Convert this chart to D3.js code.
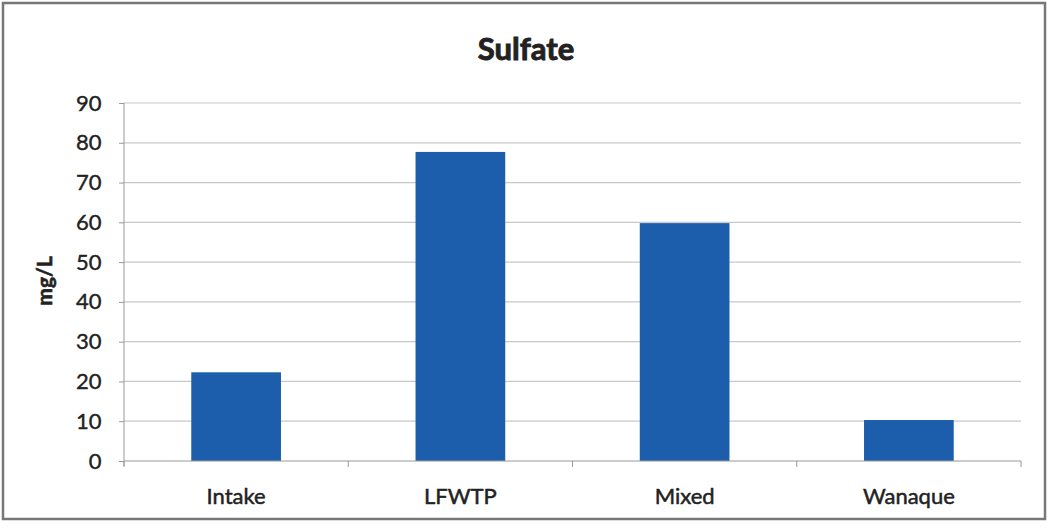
<!DOCTYPE html>
<html><head><meta charset="utf-8">
<script src="https://cdn.jsdelivr.net/npm/d3@7"></script>
<style>body{margin:0;background:#fff;} svg{display:block;}</style>
</head><body>
<svg id="chart" width="1049" height="529"></svg>
<script>
const categories = ["Intake", "LFWTP", "Mixed", "Wanaque"];
const values = [22.3, 77.7, 59.8, 10.3];
const yTicks = [0, 10, 20, 30, 40, 50, 60, 70, 80, 90];
const title = "Sulfate";
const yLabel = "mg/L";

const svg = d3.select("#chart");
const font = "Lato, 'Open Sans', sans-serif";
const m = {left: 124, right: 1021, top: 103, bottom: 461};

svg.append("rect").attr("x", 3).attr("y", 3).attr("width", 1042).attr("height", 516)
  .attr("fill", "#fff").attr("stroke", "#777").attr("stroke-width", 2.5);

const x = d3.scaleBand().domain(categories).range([m.left, m.right]).paddingInner(0.6).paddingOuter(0.3);
const y = d3.scaleLinear().domain([0, 90]).range([m.bottom, m.top]);

// gridlines
svg.append("g").selectAll("line").data(yTicks.filter(d => d > 0)).join("line")
  .attr("x1", m.left).attr("x2", m.right)
  .attr("y1", d => y(d)).attr("y2", d => y(d))
  .attr("stroke", "#c8c8c8").attr("stroke-width", 1.2);

// y axis
const yAxis = d3.axisLeft(y).tickValues(yTicks).tickSize(5).tickPadding(13);
const gy = svg.append("g").attr("transform", `translate(${m.left},0)`).call(yAxis);
gy.select(".domain").attr("stroke", "#999").attr("d", `M0,${m.top}V${m.bottom + 5}`);
gy.selectAll(".tick line").attr("stroke", "#999");
gy.selectAll("text").attr("font-family", font).attr("font-size", 22).attr("fill", "#222")
  .attr("stroke", "#222").attr("stroke-width", 0.4).attr("dx", "-0.2em");

// bars
svg.append("g").selectAll("rect").data(values).join("rect")
  .attr("x", (d, i) => x(categories[i]))
  .attr("width", x.bandwidth())
  .attr("y", d => y(d))
  .attr("height", d => y(0) - y(d))
  .attr("fill", "#1c5eab");

// x axis
const gx = svg.append("g").attr("transform", `translate(0,${m.bottom})`);
gx.append("line").attr("x1", m.left).attr("x2", m.right).attr("y1", 0).attr("y2", 0).attr("stroke", "#999");
const step = (m.right - m.left) / categories.length;
gx.selectAll("line.tk").data(d3.range(categories.length + 1)).join("line").attr("class", "tk")
  .attr("x1", i => m.left + i * step).attr("x2", i => m.left + i * step)
  .attr("y1", 0).attr("y2", 6).attr("stroke", "#999");
gx.selectAll("text").data(categories).join("text")
  .attr("x", d => x(d) + x.bandwidth() / 2).attr("y", 43)
  .attr("text-anchor", "middle").attr("font-family", font).attr("font-size", 22).attr("fill", "#222")
  .attr("stroke", "#222").attr("stroke-width", 0.5)
  .text(d => d);

// title
svg.append("text").attr("x", 526).attr("y", 60).attr("text-anchor", "middle")
  .attr("font-family", font).attr("font-weight", "bold").attr("font-size", 31).attr("fill", "#222")
  .attr("stroke", "#222").attr("stroke-width", 0.9).text(title);

// y label
svg.append("text").attr("transform", "translate(52,281) rotate(-90)").attr("text-anchor", "middle")
  .attr("font-family", font).attr("font-weight", "bold").attr("font-size", 21).attr("fill", "#222")
  .attr("stroke", "#222").attr("stroke-width", 0.6).text(yLabel);
</script>
</body></html>
